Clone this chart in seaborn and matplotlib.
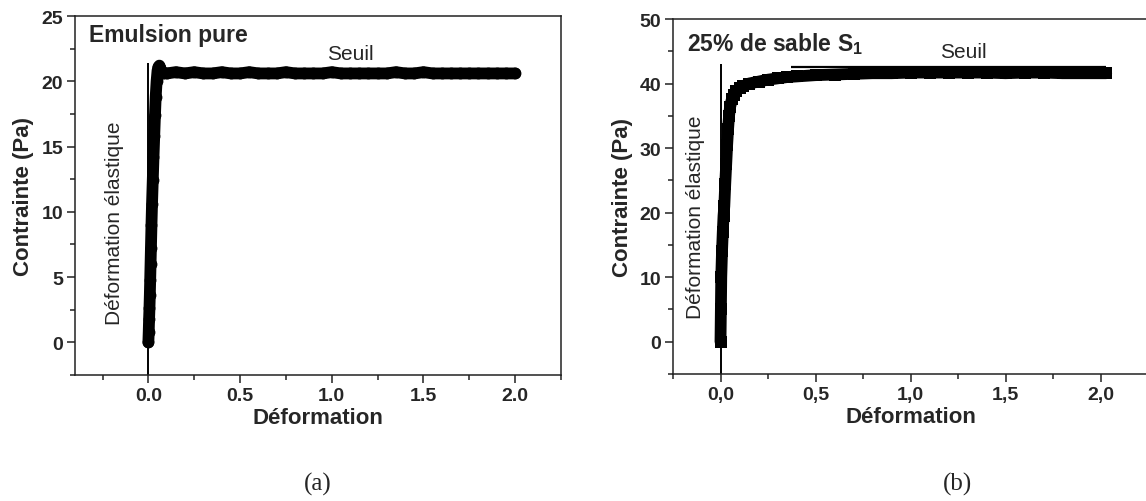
import matplotlib
matplotlib.use("Agg")
import matplotlib.pyplot as plt
from matplotlib.ticker import MultipleLocator, FixedLocator, FixedFormatter
import seaborn as sns
import pandas as pd

sns.set_theme(style="ticks")
plt.rcParams['font.family'] = ['Liberation Sans', 'DejaVu Sans']
plt.rcParams['mathtext.fontset'] = 'custom'
plt.rcParams['mathtext.bf'] = 'Liberation Sans:bold'
plt.rcParams['mathtext.rm'] = 'Liberation Sans'

# ---------------- data: panel (a) Emulsion pure ----------------
a_strain = [0.0, 0.002, 0.004, 0.006, 0.008, 0.010, 0.012, 0.014, 0.017, 0.020,
            0.024, 0.028, 0.032, 0.036, 0.040, 0.045, 0.050, 0.055, 0.060, 0.065,
            0.070, 0.080, 0.10, 0.15, 0.20, 0.25, 0.30, 0.35, 0.40, 0.45,
            0.50, 0.55, 0.60, 0.65, 0.70, 0.75, 0.80, 0.85, 0.90, 0.95,
            1.00, 1.05, 1.10, 1.15, 1.20, 1.25, 1.30, 1.35, 1.40, 1.45,
            1.50, 1.55, 1.60, 1.65, 1.70, 1.75, 1.80, 1.85, 1.90, 1.95, 2.00]
a_stress = [0.0, 0.8, 1.8, 2.6, 3.6, 4.8, 6.0, 7.2, 9.0, 10.6,
            12.4, 14.2, 15.8, 17.4, 18.8, 20.0, 20.8, 21.1, 21.2, 21.0,
            20.8, 20.6, 20.6, 20.7, 20.6, 20.7, 20.6, 20.6, 20.7, 20.6,
            20.6, 20.7, 20.6, 20.6, 20.6, 20.7, 20.6, 20.6, 20.6, 20.6,
            20.7, 20.6, 20.6, 20.6, 20.6, 20.6, 20.6, 20.7, 20.6, 20.6,
            20.7, 20.6, 20.6, 20.6, 20.6, 20.6, 20.6, 20.6, 20.6, 20.6, 20.6]
a_elastic_x = 0.0
a_elastic_top = 21.4

# ---------------- data: panel (b) 25% de sable S1 ----------------
b_strain = [0.0, 0.002, 0.004, 0.008, 0.012, 0.016, 0.020, 0.025, 0.030, 0.035,
            0.040, 0.045, 0.050, 0.060, 0.070, 0.080, 0.10, 0.12, 0.15, 0.20,
            0.25, 0.30, 0.35, 0.40, 0.50, 0.60, 0.70, 0.80, 0.90, 1.00,
            1.10, 1.20, 1.30, 1.40, 1.50, 1.60, 1.70, 1.80, 1.90, 2.00, 2.03]
b_stress = [0.0, 5.0, 10.0, 14.0, 17.0, 19.5, 21.0, 24.5, 27.5, 30.5,
            33.0, 35.0, 36.3, 37.6, 38.3, 38.8, 39.3, 39.6, 40.0, 40.3,
            40.6, 40.8, 41.0, 41.1, 41.3, 41.4, 41.5, 41.6, 41.6, 41.7,
            41.7, 41.7, 41.7, 41.7, 41.6, 41.7, 41.7, 41.6, 41.6, 41.6, 41.6]
b_elastic_x = 0.0
b_elastic_top = 43.0
b_seuil_y = 42.5
b_seuil_x = [0.37, 2.03]

x_ticks = [0.0, 0.5, 1.0, 1.5, 2.0]
a_xticklabels = ["0.0", "0.5", "1.0", "1.5", "2.0"]
b_xticklabels = ["0,0", "0,5", "1,0", "1,5", "2,0"]
a_yticks = [0, 5, 10, 15, 20, 25]
b_yticks = [0, 10, 20, 30, 40, 50]

df_a = pd.DataFrame({"Déformation": a_strain, "Contrainte": a_stress})
df_b = pd.DataFrame({"Déformation": b_strain, "Contrainte": b_stress})

fig = plt.figure(figsize=(11.46, 5.02), dpi=100)
ax1 = fig.add_axes([75/1146, 126/502, 486/1146, 359/502])
ax2 = fig.add_axes([673/1146, 127/502, 475/1146, 355/502])

# panel (a)
sns.lineplot(data=df_a, x="Déformation", y="Contrainte", ax=ax1, color="black",
             marker="o", markersize=8.5, markeredgewidth=0, linewidth=8.5,
             estimator=None, sort=False, solid_capstyle="round")
ax1.set_xlim(-0.40, 2.25)
ax1.set_ylim(-2.5, 25)
ax1.vlines(a_elastic_x, -2.5, a_elastic_top, color="black", linewidth=1.4)
ax1.xaxis.set_major_locator(FixedLocator(x_ticks))
ax1.xaxis.set_major_formatter(FixedFormatter(a_xticklabels))
ax1.xaxis.set_minor_locator(MultipleLocator(0.25))
ax1.yaxis.set_major_locator(FixedLocator(a_yticks))
ax1.yaxis.set_minor_locator(MultipleLocator(2.5))
ax1.text(0.029, 0.93, "Emulsion pure", transform=ax1.transAxes, fontsize=16.5,
         fontweight="bold", ha="left", va="baseline")
ax1.text(1.10, 22.1, "Seuil", fontsize=15, ha="center", va="center")
ax1.text(-0.186, 9.2, "Déformation élastique", rotation=90, fontsize=15,
         ha="center", va="center")

# panel (b)
sns.lineplot(data=df_b, x="Déformation", y="Contrainte", ax=ax2, color="black",
             marker="s", markersize=8, markeredgewidth=0, linewidth=8.5,
             estimator=None, sort=False)
ax2.set_xlim(-0.25, 2.25)
ax2.set_ylim(-5, 50)
ax2.vlines(b_elastic_x, -5, b_elastic_top, color="black", linewidth=1.4)
ax2.hlines(b_seuil_y, b_seuil_x[0], b_seuil_x[1], color="black", linewidth=1.6)
ax2.xaxis.set_major_locator(FixedLocator(x_ticks))
ax2.xaxis.set_major_formatter(FixedFormatter(b_xticklabels))
ax2.xaxis.set_minor_locator(MultipleLocator(0.25))
ax2.yaxis.set_major_locator(FixedLocator(b_yticks))
ax2.yaxis.set_minor_locator(MultipleLocator(5))
ax2.text(0.03, 0.913, r"25% de sable S$_{\mathbf{1}}$", transform=ax2.transAxes,
         fontsize=16.5, fontweight="bold", ha="left", va="baseline")
ax2.text(1.28, 45.0, "Seuil", fontsize=15, ha="center", va="center")
ax2.text(-0.13, 19.4, "Déformation élastique", rotation=90, fontsize=15,
         ha="center", va="center")

for ax in (ax1, ax2):
    ax.set_xlabel("Déformation", fontsize=16, fontweight="bold", labelpad=2)
    ax.set_ylabel("Contrainte (Pa)", fontsize=16, fontweight="bold", labelpad=5)
    ax.tick_params(which="both", direction="out", bottom=True, left=True,
                   top=False, right=False, color="#222222", width=1.1)
    ax.tick_params(which="major", length=5.5, labelsize=14, pad=3)
    ax.tick_params(which="minor", length=3.5)
    for lab in ax.get_xticklabels() + ax.get_yticklabels():
        lab.set_fontweight("bold")
    for sp in ax.spines.values():
        sp.set_visible(True)
        sp.set_color("#222222")
        sp.set_linewidth(1.1)

fig.text(318/1146, 1 - 484/502, "(a)", family="Liberation Serif", fontsize=18,
         ha="center", va="center")
fig.text(957/1146, 1 - 484/502, "(b)", family="Liberation Serif", fontsize=18,
         ha="center", va="center")

fig.savefig("out.png", dpi=100, facecolor="white")
